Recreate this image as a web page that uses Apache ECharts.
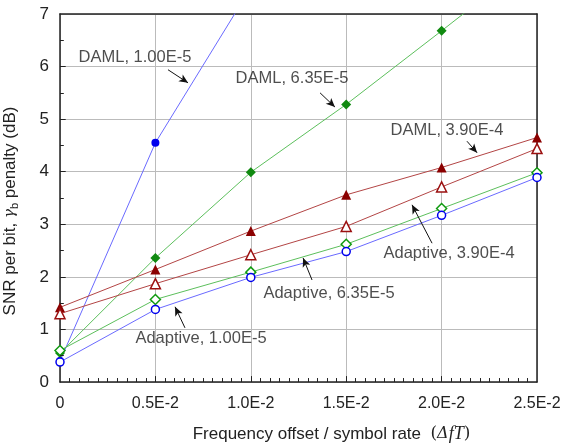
<!DOCTYPE html>
<html>
<head>
<meta charset="utf-8">
<script src="https://cdn.jsdelivr.net/npm/echarts@6/dist/echarts.min.js"></script>
<style>
  html, body { margin: 0; padding: 0; background: #fff; }
  #main { width: 563px; height: 444px; }
</style>
</head>
<body>
<div id="main"></div>
<script>
// x values (frequency offset / symbol rate)
const xValues = [0, 0.005, 0.010, 0.015, 0.020, 0.025];
const xTickLabels = ['0', '0.5E-2', '1.0E-2', '1.5E-2', '2.0E-2', '2.5E-2'];

// SNR penalty (dB)
const damlE5 = [0.40, 4.55, 7.50];
const daml635 = [0.55, 2.36, 3.99, 5.28, 6.68, 8.10];
const daml390 = [1.42, 2.14, 2.87, 3.56, 4.08, 4.65];
const adapt390 = [1.30, 1.87, 2.42, 2.96, 3.71, 4.44];
const adapt635 = [0.60, 1.57, 2.09, 2.62, 3.30, 3.98];
const adaptE5 = [0.38, 1.38, 1.99, 2.48, 3.17, 3.89];

// annotation text: [x, y, text]
const notes = [
  [0.00393, 6.18, 'DAML, 1.00E-5'],
  [0.01216, 5.78, 'DAML, 6.35E-5'],
  [0.02028, 4.79, 'DAML, 3.90E-4'],
  [0.02039, 2.45, 'Adaptive, 3.90E-4'],
  [0.01410, 1.69, 'Adaptive, 6.35E-5'],
  [0.00739, 0.82, 'Adaptive, 1.00E-5']
];
// arrows: [x1, y1, x2, y2]
const arrows = [
  [0.00566, 5.94, 0.00671, 5.69],
  [0.01363, 5.50, 0.01441, 5.23],
  [0.02133, 4.58, 0.02186, 4.36],
  [0.01950, 2.64, 0.01845, 3.37],
  [0.01321, 1.94, 0.01274, 2.36],
  [0.00655, 1.03, 0.00603, 1.43]
];

const font = '"Liberation Sans", Arial, sans-serif';
const pair = (ys) => ys.map((y, i) => [xValues[i], y]);

// inward ticks: one per 0.0005 on x, one per 0.5 on y
const xTickStep = 0.0005, yTickStep = 0.5;
const xTickLen = 0.075, yTickLen = 0.0002;   // ~4px in data units
const tickSegs = [];
for (let i = 1; i < 50; i++) {
  const k = i % 10 === 0 ? 1.5 : 1;
  tickSegs.push([{ coord: [i * xTickStep, 0] }, { coord: [i * xTickStep, xTickLen * k] }]);
}
for (let j = 1; j < 14; j++) {
  const k = j % 2 === 0 ? 1.5 : 1;
  tickSegs.push([{ coord: [0, j * yTickStep] }, { coord: [yTickLen * k, j * yTickStep] }]);
}

function lineSeries(name, ys, lineColor, symbol, symColor, filled) {
  return {
    name: name,
    type: 'line',
    data: pair(ys),
    symbol: symbol,
    symbolSize: symbol === 'circle' ? 8 : 10,
    showAllSymbol: true,
    lineStyle: { color: lineColor, width: 1 },
    itemStyle: {
      color: filled ? symColor : '#fff',
      borderColor: symColor,
      borderWidth: filled ? 0 : 1.5
    },
    emphasis: { disabled: true },
    animation: false
  };
}

// plain axis line used as the top / right frame
function frameAxis(min, max, interval, pos) {
  return {
    type: 'value', min: min, max: max, interval: interval, position: pos,
    axisLine: { show: true, onZero: false, lineStyle: { color: '#222', width: 1.5 } },
    axisTick: { show: false },
    axisLabel: { show: false },
    splitLine: { show: false }
  };
}

const chart = echarts.init(document.getElementById('main'));

const option = {
  backgroundColor: '#fff',
  animation: false,
  grid: { left: 60, right: 26, top: 14, bottom: 62, outerBoundsMode: 'none', containLabel: false },
  xAxis: [{
    type: 'value',
    min: 0, max: 0.025, interval: 0.005,
    name: 'Frequency offset / symbol rate  {p|(}{d|Δ}{i|fT}{p|)}',
    nameLocation: 'middle',
    nameGap: 43,
    nameTextStyle: {
      fontFamily: font, fontSize: 17, color: '#222', padding: [0, 0, 0, 66],
      rich: {
        p: { fontFamily: '"DejaVu Serif", serif', fontSize: 17, color: '#222' },
        d: { fontFamily: '"DejaVu Serif", serif', fontStyle: 'italic', fontSize: 16, color: '#222' },
        i: { fontFamily: '"Liberation Serif", serif', fontStyle: 'italic', fontSize: 18, color: '#222' }
      }
    },
    axisLine: { show: true, onZero: false, lineStyle: { color: '#222', width: 1.5 } },
    axisTick: { show: false },
    splitLine: { show: true, lineStyle: { color: '#bbb', width: 1 } },
    axisLabel: {
      fontFamily: font, fontSize: 16, color: '#222', margin: 14,
      formatter: (v) => xTickLabels[Math.round(v / 0.005)]
    }
  }, frameAxis(0, 0.025, 0.005, 'top')],
  yAxis: [{
    type: 'value',
    min: 0, max: 7, interval: 1,
    name: 'SNR per bit, {g|γ}{s|b} penalty (dB)',
    nameLocation: 'middle',
    nameGap: 40,
    nameTextStyle: {
      fontFamily: font, fontSize: 17, color: '#222', padding: [0, 26, 0, 0],
      rich: {
        g: { fontFamily: '"DejaVu Serif", serif', fontStyle: 'italic', fontSize: 15, color: '#222' },
        s: { fontFamily: font, fontSize: 11, color: '#222', padding: [8, 0, 0, 0] }
      }
    },
    axisLine: { show: true, onZero: false, lineStyle: { color: '#222', width: 1.5 } },
    axisTick: { show: false },
    splitLine: { show: true, lineStyle: { color: '#bbb', width: 1 } },
    axisLabel: { fontFamily: font, fontSize: 17, color: '#222', margin: 11 }
  }, frameAxis(0, 7, 1, 'right')],
  series: [
    lineSeries('DAML, 1.00E-5', damlE5, '#6a6aff', 'circle', '#0000ee', true),
    lineSeries('DAML, 6.35E-5', daml635, '#5cbf5c', 'diamond', '#108a10', true),
    lineSeries('DAML, 3.90E-4', daml390, '#b34545', 'triangle', '#8b0000', true),
    lineSeries('Adaptive, 3.90E-4', adapt390, '#b34545', 'triangle', '#9b1010', false),
    lineSeries('Adaptive, 6.35E-5', adapt635, '#5cbf5c', 'diamond', '#109a10', false),
    lineSeries('Adaptive, 1.00E-5', adaptE5, '#6a6aff', 'circle', '#0000ee', false),
    {
      name: 'notes',
      type: 'scatter',
      data: notes.map(n => ({ value: [n[0], n[1]], label: { formatter: n[2] } })),
      symbolSize: 0,
      label: {
        show: true, position: 'inside',
        fontFamily: font, fontSize: 16.5, color: '#222'
      },
      emphasis: { disabled: true },
      silent: true,
      animation: false,
      z: 5
    },
    {
      name: 'arrows',
      type: 'line',
      data: [],
      silent: true,
      animation: false,
      markLine: {
        silent: true,
        animation: false,
        symbol: ['none', 'arrow'],
        symbolSize: [6, 9],
        label: { show: false },
        lineStyle: { color: '#111', width: 1, type: 'solid' },
        emphasis: { disabled: true },
        data: arrows.map(a => [{ coord: [a[0], a[1]] }, { coord: [a[2], a[3]] }])
      }
    },
    {
      name: 'ticks',
      type: 'line',
      data: [],
      silent: true,
      animation: false,
      z: 6,
      markLine: {
        silent: true,
        animation: false,
        symbol: ['none', 'none'],
        label: { show: false },
        lineStyle: { color: '#222', width: 1, type: 'solid' },
        emphasis: { disabled: true },
        data: tickSegs
      }
    }
  ]
};

chart.setOption(option);
</script>
</body>
</html>
